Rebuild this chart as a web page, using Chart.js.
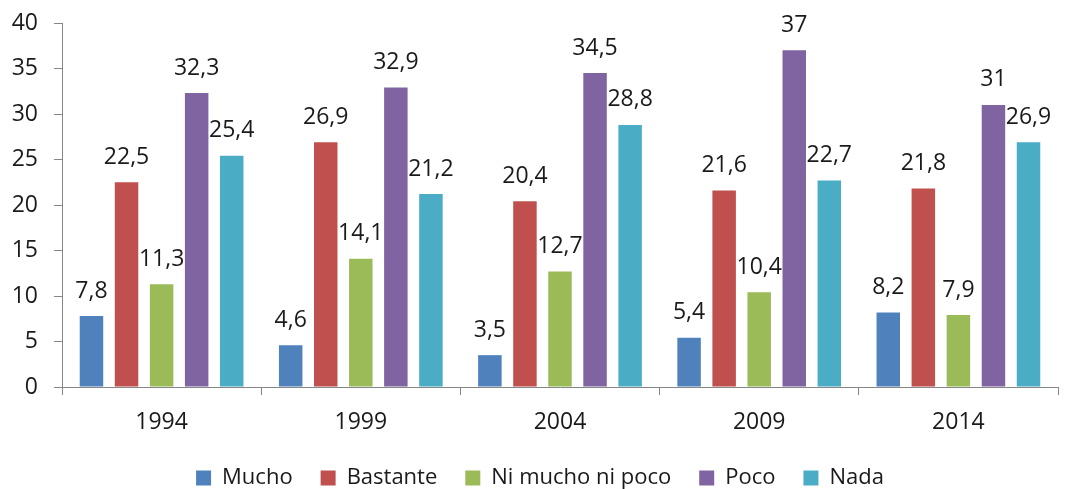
<!DOCTYPE html>
<html>
<head>
<meta charset="utf-8">
<script src="https://cdn.jsdelivr.net/npm/chart.js@4/dist/chart.umd.min.js"></script>
<style>
  html, body { margin: 0; padding: 0; background: #fff; }
  #wrap { width: 1066px; height: 489px; }
</style>
</head>
<body>
<div id="wrap"><canvas id="chart"></canvas></div>
<script>
const years = ["1994", "1999", "2004", "2009", "2014"];
const mucho = [7.8, 4.6, 3.5, 5.4, 8.2];
const bastante = [22.5, 26.9, 20.4, 21.6, 21.8];
const niMuchoNiPoco = [11.3, 14.1, 12.7, 10.4, 7.9];
const poco = [32.3, 32.9, 34.5, 37, 31];
const nada = [25.4, 21.2, 28.8, 22.7, 26.9];

const FONT = '"Open Sans", "Noto Sans", sans-serif';
const axisGray = "#868686";
const textColor = "#1a1a1a";

// value labels above each bar, decimal comma
const barLabels = {
  id: "barLabels",
  afterDatasetsDraw(chart) {
    const ctx = chart.ctx;
    ctx.save();
    ctx.font = "23px " + FONT;
    ctx.fillStyle = textColor;
    ctx.textAlign = "center";
    ctx.textBaseline = "middle";
    chart.data.datasets.forEach((ds, i) => {
      const meta = chart.getDatasetMeta(i);
      meta.data.forEach((bar, j) => {
        const txt = String(ds.data[j]).replace(".", ",");
        ctx.fillText(txt, bar.x, bar.y - 25);
      });
    });
    ctx.restore();
  }
};

// nudge the legend a bit to the right, like the original
const legendShift = {
  id: "legendShift",
  afterLayout(chart) {
    if (!chart.legend) return;
    chart.legend.left += 11;
    chart.legend.right += 11;
  }
};

const series = [
  { label: "Mucho", data: mucho, color: "#4F81BD" },
  { label: "Bastante", data: bastante, color: "#C0504D" },
  { label: "Ni mucho ni poco", data: niMuchoNiPoco, color: "#9BBB59" },
  { label: "Poco", data: poco, color: "#8064A2" },
  { label: "Nada", data: nada, color: "#4BACC6" }
];

new Chart(document.getElementById("chart").getContext("2d"), {
  type: "bar",
  data: {
    labels: years,
    datasets: series.map(s => ({
      label: s.label,
      data: s.data,
      backgroundColor: s.color,
      borderWidth: 0,
      categoryPercentage: 0.88,
      barPercentage: 0.67
    }))
  },
  options: {
    responsive: true,
    maintainAspectRatio: false,
    animation: false,
    layout: { padding: { top: 23, right: 8, left: 0, bottom: 0 } },
    scales: {
      x: {
        afterFit: s => { s.height = 52; },
        border: { color: axisGray, width: 1 },
        grid: { drawOnChartArea: false, color: axisGray, tickLength: 8, offset: true },
        ticks: { color: textColor, font: { family: FONT, size: 23 }, padding: 14 }
      },
      y: {
        min: 0,
        max: 40,
        // fixed width; drop the extra label padding so the plot top sits at 23px
        afterFit: s => { s.width = 62; s.paddingTop = 0; s.paddingBottom = 0; },
        border: { color: axisGray, width: 1 },
        grid: { drawOnChartArea: false, color: axisGray, tickLength: 8 },
        ticks: { stepSize: 5, color: textColor, font: { family: FONT, size: 23 }, padding: 16 }
      }
    },
    plugins: {
      tooltip: { enabled: false },
      legend: {
        position: "bottom",
        maxHeight: 50,
        labels: {
          color: textColor,
          font: { family: FONT, size: 22 },
          boxWidth: 15,
          boxHeight: 15,
          padding: 28
        }
      }
    }
  },
  plugins: [barLabels, legendShift]
});
</script>
</body>
</html>
